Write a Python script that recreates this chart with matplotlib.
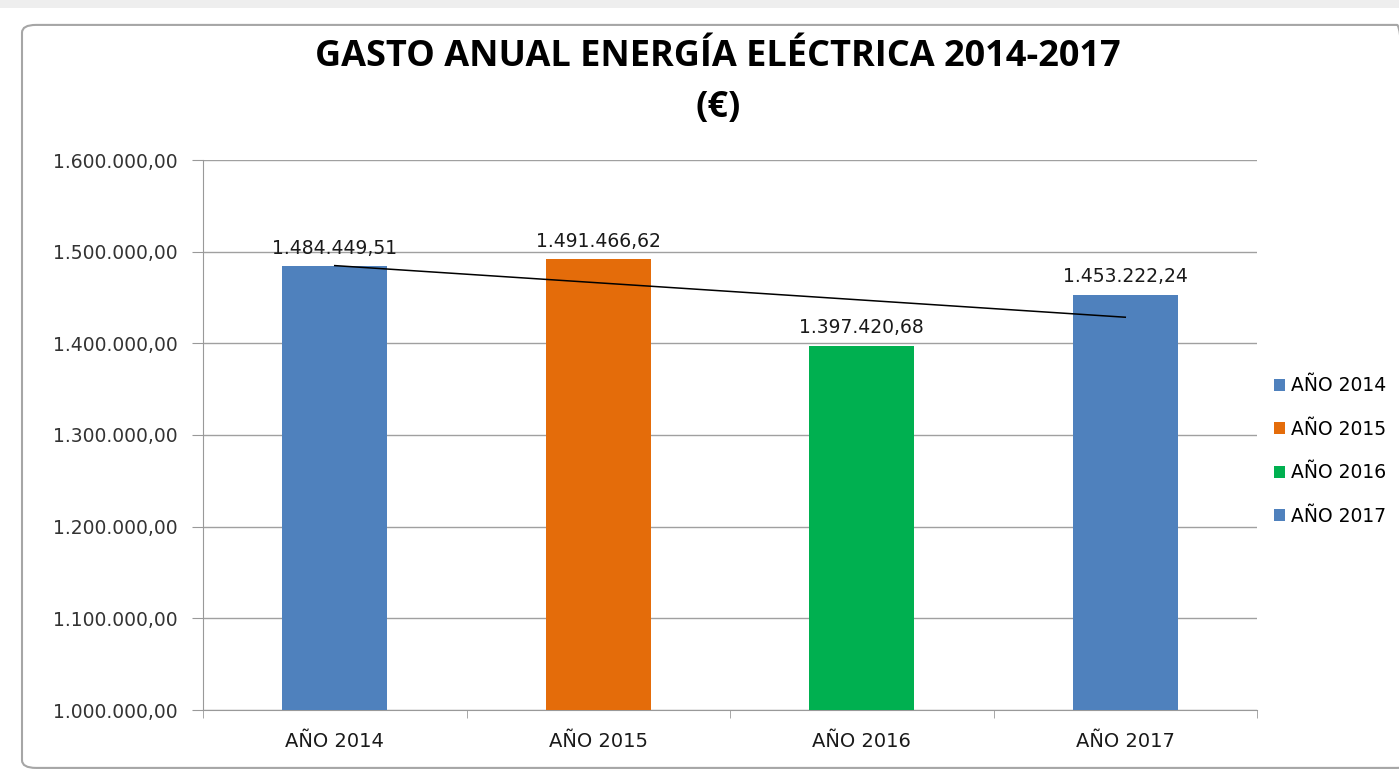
import numpy as np
import matplotlib.pyplot as plt
from matplotlib.patches import FancyBboxPatch, Patch

plt.rcParams['font.family'] = ['DejaVu Sans']

# Datos
categorias = ["AÑO 2014", "AÑO 2015", "AÑO 2016", "AÑO 2017"]
gasto = [1484449.51, 1491466.62, 1397420.68, 1453222.24]
etiquetas = ["1.484.449,51", "1.491.466,62", "1.397.420,68", "1.453.222,24"]
colores = ["#4f81bd", "#e46c0a", "#00b050", "#4f81bd"]
ticks_y = [1000000, 1100000, 1200000, 1300000, 1400000, 1500000, 1600000]
ticks_y_txt = ["1.000.000,00", "1.100.000,00", "1.200.000,00", "1.300.000,00",
               "1.400.000,00", "1.500.000,00", "1.600.000,00"]

W, H = 1399, 771
fig = plt.figure(figsize=(W / 100, H / 100), dpi=100)
fig.patch.set_facecolor("white")

# marco del área del gráfico (estilo Excel)
marco = FancyBboxPatch((22 / W, 0.004), (W - 10) / W, 1 - 28 / H,
                       boxstyle="round,pad=0,rounding_size=0.01",
                       transform=fig.transFigure, fill=False,
                       edgecolor="#a6a6a6", linewidth=1.5)
fig.patches.append(marco)
# franja gris superior (hoja de cálculo)
fig.patches.append(plt.Rectangle((0, 1 - 8 / H), 1, 8 / H, transform=fig.transFigure,
                                 facecolor="#eeeeee", edgecolor="none"))

ax = fig.add_axes([203 / W, 1 - 710 / H, (1257 - 203) / W, (710 - 160) / H])

x = np.arange(len(categorias))
ax.bar(x, gasto, width=0.4, color=colores, zorder=3)

# línea de tendencia lineal
coef = np.polyfit(x, gasto, 1)
ax.plot(x[[0, -1]], np.polyval(coef, x[[0, -1]]), color="black", lw=1.1, zorder=4)

for xi, v, t in zip(x, gasto, etiquetas):
    ax.text(xi, v + 9000, t, ha="center", va="bottom", fontsize=13.5, color="#1a1a1a")

ax.set_xlim(-0.5, len(categorias) - 0.5)
ax.set_ylim(1000000, 1600000)
ax.set_yticks(ticks_y)
ax.set_yticklabels(ticks_y_txt, fontsize=13.5, color="#333333")
ax.set_xticks(x)
ax.set_xticklabels(categorias, fontsize=14, color="#1a1a1a")
ax.set_xticks(np.arange(-0.5, len(categorias), 1), minor=True)
ax.tick_params(axis="x", which="major", length=0, pad=16)
ax.tick_params(axis="x", which="minor", length=6, color="#999999", direction="out")
ax.tick_params(axis="y", length=8, color="#999999", direction="out", pad=10)

ax.grid(axis="y", color="#a0a0a0", lw=1, zorder=0)
for s in ["top", "right"]:
    ax.spines[s].set_visible(False)
ax.spines["left"].set_color("#999999")
ax.spines["bottom"].set_color("#999999")

fig.text(718 / W, 1 - 57 / H, "GASTO ANUAL ENERGÍA ELÉCTRICA 2014-2017",
         ha="center", va="center", fontsize=26, fontweight="bold", family="Open Sans")
fig.text(718 / W, 1 - 108 / H, "(€)", ha="center", va="center", fontsize=26,
         fontweight="bold", family="Open Sans")

handles = [Patch(facecolor=c) for c in colores]
fig.legend(handles, categorias, loc="center left", bbox_to_anchor=(1257 / W, 1 - 451 / H),
           frameon=False, fontsize=13.5, handlelength=0.6, handleheight=0.6,
           handletextpad=0.3, labelspacing=1.3)

fig.savefig("out.png", dpi=100, facecolor="white")
